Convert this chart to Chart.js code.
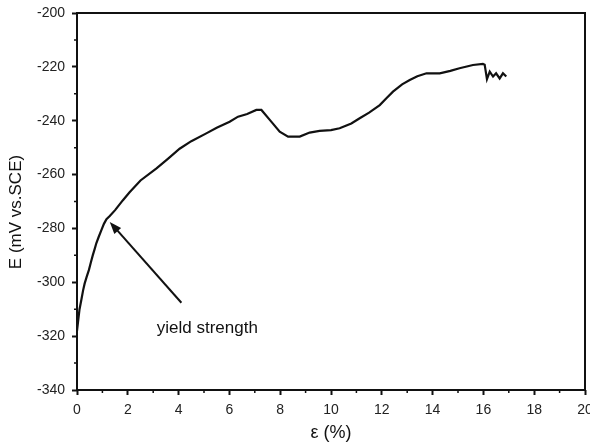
<!DOCTYPE html>
<html>
<head>
<meta charset="utf-8">
<script src="https://cdn.jsdelivr.net/npm/chart.js@4/dist/chart.umd.min.js"></script>
<style>
  html, body { margin: 0; padding: 0; background: #fff; }
  #wrap { width: 590px; height: 448px; position: relative; }
</style>
</head>
<body>
<div id="wrap"><canvas id="chart"></canvas></div>
<script>
// strain (%) vs potential (mV vs. SCE)
const strain = [0, 0.05, 0.1, 0.17, 0.24, 0.3, 0.38, 0.47, 0.55, 0.62, 0.7, 0.76, 0.86, 0.96, 1.06,
  1.16, 1.29, 1.5, 1.8, 2.07, 2.5, 3.13, 3.6, 4.04, 4.5, 5.09, 5.5, 6.01, 6.34, 6.7, 7.06, 7.26,
  7.59, 7.98, 8.31, 8.77, 9.16, 9.55, 10.0, 10.34, 10.8, 11.13, 11.5, 11.92, 12.2, 12.44, 12.8,
  13.1, 13.4, 13.76, 14.28, 14.7, 15.06, 15.59, 15.98, 16.05, 16.14, 16.25, 16.38, 16.5, 16.64,
  16.77, 16.9];
const potential = [-318, -314, -310, -306.6, -303, -300.5, -298, -295.4, -292.5, -290, -287.5, -285.5,
  -283, -280.6, -278.3, -276.6, -275.4, -273.2, -269.6, -266.6, -262.2, -257.7, -254, -250.4,
  -247.6, -244.7, -242.6, -240.4, -238.5, -237.5, -236, -236, -239.7, -244.1, -245.9, -245.9,
  -244.4, -243.8, -243.5, -242.8, -241, -239.1, -237, -234.2, -231.5, -229.2, -226.5, -224.9,
  -223.5, -222.4, -222.4, -221.5, -220.5, -219.3, -218.9, -219.2, -224.6, -221.8, -223.6,
  -222.4, -224.3, -222.4, -223.6];

const xTicks = [0, 2, 4, 6, 8, 10, 12, 14, 16, 18, 20];
const yTicks = [-340, -320, -300, -280, -260, -240, -220, -200];

// annotation: arrow tail -> tip, and its label
const arrowFrom = { x: 4.11, y: -307.6 };
const arrowTo = { x: 1.29, y: -277.6 };
const arrowLabel = { x: 3.14, y: -317, text: 'yield strength' };

const FONT = '"Liberation Sans", Arial, sans-serif';

const framePlugin = {
  id: 'frame',
  afterDraw(chart) {
    const { ctx, chartArea: a, scales: { x, y } } = chart;
    ctx.save();
    ctx.strokeStyle = '#111';
    ctx.lineWidth = 2;
    ctx.strokeRect(a.left, a.top, a.right - a.left, a.bottom - a.top);

    // minor ticks halfway between labelled ones
    ctx.lineWidth = 1.5;
    ctx.beginPath();
    for (let i = 0; i < xTicks.length - 1; i++) {
      const px = x.getPixelForValue((xTicks[i] + xTicks[i + 1]) / 2);
      ctx.moveTo(px, a.bottom);
      ctx.lineTo(px, a.bottom + 3);
    }
    for (let i = 0; i < yTicks.length - 1; i++) {
      const py = y.getPixelForValue((yTicks[i] + yTicks[i + 1]) / 2);
      ctx.moveTo(a.left, py);
      ctx.lineTo(a.left - 3, py);
    }
    ctx.stroke();

    // y axis title
    ctx.fillStyle = '#111';
    ctx.font = '17px ' + FONT;
    ctx.textAlign = 'center';
    ctx.textBaseline = 'middle';
    ctx.translate(16, 212);
    ctx.rotate(-Math.PI / 2);
    ctx.fillText('E (mV vs.SCE)', 0, 0);
    ctx.restore();

    // arrow + label
    const x0 = x.getPixelForValue(arrowFrom.x), y0 = y.getPixelForValue(arrowFrom.y);
    const x1 = x.getPixelForValue(arrowTo.x), y1 = y.getPixelForValue(arrowTo.y);
    const ang = Math.atan2(y1 - y0, x1 - x0);
    ctx.save();
    ctx.strokeStyle = '#111';
    ctx.fillStyle = '#111';
    ctx.lineWidth = 2;
    ctx.beginPath();
    ctx.moveTo(x0, y0);
    ctx.lineTo(x1 - 8 * Math.cos(ang), y1 - 8 * Math.sin(ang));
    ctx.stroke();
    ctx.beginPath();
    ctx.moveTo(x1, y1);
    ctx.lineTo(x1 - 12 * Math.cos(ang) + 4.5 * Math.sin(ang), y1 - 12 * Math.sin(ang) - 4.5 * Math.cos(ang));
    ctx.lineTo(x1 - 12 * Math.cos(ang) - 4.5 * Math.sin(ang), y1 - 12 * Math.sin(ang) + 4.5 * Math.cos(ang));
    ctx.closePath();
    ctx.fill();
    ctx.font = '17px ' + FONT;
    ctx.textAlign = 'left';
    ctx.textBaseline = 'middle';
    ctx.fillText(arrowLabel.text, x.getPixelForValue(arrowLabel.x), y.getPixelForValue(arrowLabel.y));
    ctx.restore();
  }
};

new Chart(document.getElementById('chart'), {
  type: 'line',
  data: {
    datasets: [{
      data: strain.map((s, i) => ({ x: s, y: potential[i] })),
      borderColor: '#111',
      borderWidth: 2.2,
      pointRadius: 0,
      tension: 0,
      fill: false
    }]
  },
  options: {
    responsive: true,
    maintainAspectRatio: false,
    animation: false,
    layout: { padding: { top: 13, right: 5, left: 0, bottom: 0 } },
    plugins: { legend: { display: false }, tooltip: { enabled: false } },
    scales: {
      x: {
        type: 'linear',
        min: 0, max: 20,
        afterFit: (s) => { s.height = 58; s.paddingRight = 0; s.paddingLeft = 0; },
        afterBuildTicks: (s) => { s.ticks = xTicks.map(v => ({ value: v })); },
        grid: { drawOnChartArea: false, tickLength: 5, tickWidth: 2, tickColor: '#111' },
        border: { display: false },
        ticks: { color: '#222', font: { family: FONT, size: 14 }, padding: 7, maxRotation: 0 },
        title: { display: true, text: 'ε (%)', color: '#111', font: { family: FONT, size: 18 }, padding: { top: 8 } }
      },
      y: {
        min: -340, max: -200,
        afterFit: (s) => { s.width = 77; s.paddingTop = 0; s.paddingBottom = 0; },
        afterBuildTicks: (s) => { s.ticks = yTicks.map(v => ({ value: v })); },
        grid: { drawOnChartArea: false, tickLength: 5, tickWidth: 2, tickColor: '#111' },
        border: { display: false },
        ticks: { color: '#222', font: { family: FONT, size: 14 }, padding: 7 }
      }
    }
  },
  plugins: [framePlugin]
});
</script>
</body>
</html>
